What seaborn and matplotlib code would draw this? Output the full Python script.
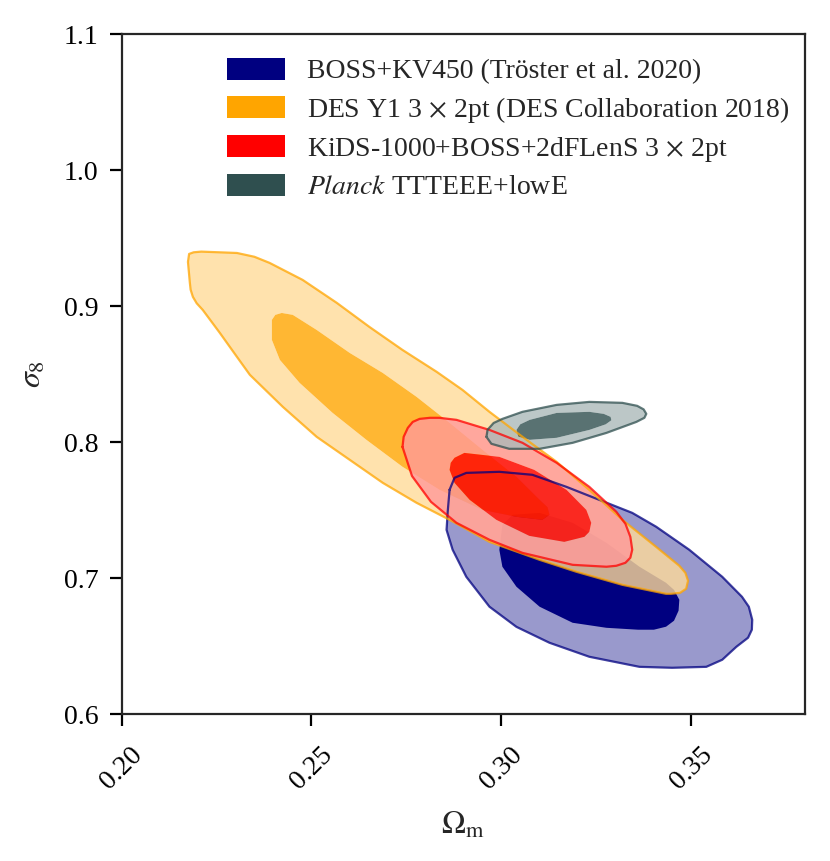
import numpy as np
import matplotlib
matplotlib.use("Agg")
import matplotlib.pyplot as plt
from matplotlib.patches import Patch, PathPatch
from matplotlib.path import Path
import seaborn as sns

# ==========================================
# CONTOUR OUTLINES (Omega_m, sigma_8)
# ==========================================

boss_outer_om = [0.2864, 0.2877, 0.2908, 0.2995, 0.3082, 0.3172, 0.3258, 0.3345, 0.3408,
                 0.3495, 0.3582, 0.3634, 0.3652, 0.3661, 0.3660, 0.3650, 0.3619, 0.3582,
                 0.3540, 0.3450, 0.3364, 0.3232, 0.3127, 0.3040, 0.2969, 0.2908, 0.2872,
                 0.2856, 0.2859]
boss_outer_s8 = [0.7649, 0.7737, 0.7773, 0.7781, 0.7759, 0.7670, 0.7575, 0.7479, 0.7377,
                 0.7208, 0.7009, 0.6862, 0.6789, 0.6693, 0.6620, 0.6561, 0.6494, 0.6399,
                 0.6347, 0.6340, 0.6347, 0.6421, 0.6524, 0.6641, 0.6789, 0.7009, 0.7208,
                 0.7354, 0.7487]
boss_inner_om = [0.2995, 0.3003, 0.3040, 0.3101, 0.3188, 0.3277, 0.3360, 0.3402, 0.3434,
                 0.3455, 0.3467, 0.3469, 0.3455, 0.3434, 0.3364, 0.3277, 0.3188, 0.3101,
                 0.3030, 0.3003]
boss_inner_s8 = [0.7207, 0.7083, 0.6936, 0.6789, 0.6671, 0.6634, 0.6620, 0.6620, 0.6642,
                 0.6686, 0.6760, 0.6840, 0.6913, 0.6965, 0.7083, 0.7259, 0.7406, 0.7479,
                 0.7465, 0.7391]

des_outer_om = [0.2175, 0.2178, 0.2190, 0.2210, 0.2304, 0.2350, 0.2390, 0.2477, 0.2567,
                0.2653, 0.2740, 0.2830, 0.2898, 0.2969, 0.3056, 0.3146, 0.3232, 0.3319,
                0.3408, 0.3469, 0.3485, 0.3492, 0.3487, 0.3471, 0.3447, 0.3434, 0.3319,
                0.3198, 0.3101, 0.2969, 0.2864, 0.2777, 0.2688, 0.2601, 0.2514, 0.2425,
                0.2338, 0.2304, 0.2259, 0.2214, 0.2198, 0.2188, 0.2182, 0.2180]
des_outer_s8 = [0.9324, 0.9383, 0.9395, 0.9400, 0.9390, 0.9362, 0.9317, 0.9192, 0.9023,
                0.8846, 0.8677, 0.8516, 0.8383, 0.8222, 0.8038, 0.7854, 0.7648, 0.7428,
                0.7229, 0.7090, 0.7038, 0.6980, 0.6921, 0.6891, 0.6884, 0.6884, 0.6950,
                0.7046, 0.7134, 0.7266, 0.7428, 0.7553, 0.7700, 0.7869, 0.8038, 0.8258,
                0.8494, 0.8626, 0.8802, 0.8971, 0.9020, 0.9067, 0.9120, 0.9170]
des_inner_om = [0.2422, 0.2451, 0.2514, 0.2601, 0.2688, 0.2777, 0.2864, 0.2951, 0.3040,
                0.3101, 0.3122, 0.3127, 0.3108, 0.3040, 0.2951, 0.2838, 0.2740, 0.2645,
                0.2556, 0.2469, 0.2417, 0.2396, 0.2396, 0.2405]
des_inner_s8 = [0.8949, 0.8935, 0.8824, 0.8655, 0.8508, 0.8332, 0.8141, 0.7942, 0.7744,
                0.7575, 0.7520, 0.7465, 0.7428, 0.7450, 0.7501, 0.7648, 0.7818, 0.8016,
                0.8214, 0.8435, 0.8604, 0.8751, 0.8898, 0.8935]

kids_outer_om = [0.2740, 0.2743, 0.2754, 0.2767, 0.2785, 0.2812, 0.2837, 0.2882, 0.2969,
                 0.3056, 0.3146, 0.3232, 0.3303, 0.3327, 0.3340, 0.3345, 0.3340, 0.3327,
                 0.3303, 0.3277, 0.3188, 0.3056, 0.2969, 0.2882, 0.2815, 0.2765]
kids_outer_s8 = [0.7964, 0.8038, 0.8104, 0.8148, 0.8170, 0.8178, 0.8178, 0.8163, 0.8089,
                 0.7994, 0.7847, 0.7670, 0.7487, 0.7399, 0.7303, 0.7208, 0.7149, 0.7112,
                 0.7090, 0.7083, 0.7097, 0.7185, 0.7281, 0.7406, 0.7560, 0.7750]
kids_inner_om = [0.2864, 0.2867, 0.2877, 0.2903, 0.2995, 0.3087, 0.3172, 0.3224, 0.3237,
                 0.3232, 0.3219, 0.3166, 0.3074, 0.2987, 0.2917, 0.2877]
kids_inner_s8 = [0.7795, 0.7847, 0.7884, 0.7920, 0.7891, 0.7795, 0.7648, 0.7501, 0.7406,
                 0.7340, 0.7303, 0.7266, 0.7310, 0.7428, 0.7575, 0.7700]

planck_outer_om = [0.2961, 0.2964, 0.2980, 0.3003, 0.3056, 0.3146, 0.3232, 0.3319, 0.3358,
                   0.3375, 0.3382, 0.3377, 0.3356, 0.3277, 0.3188, 0.3101, 0.3021, 0.2974]
planck_outer_s8 = [0.8038, 0.8090, 0.8140, 0.8170, 0.8222, 0.8273, 0.8295, 0.8288, 0.8266,
                   0.8240, 0.8207, 0.8178, 0.8148, 0.8067, 0.7994, 0.7950, 0.7950, 0.7987]
planck_inner_om = [0.3040, 0.3050, 0.3075, 0.3146, 0.3232, 0.3270, 0.3288, 0.3290, 0.3275,
                   0.3232, 0.3146, 0.3075, 0.3045]
planck_inner_s8 = [0.8089, 0.8130, 0.8163, 0.8214, 0.8222, 0.8207, 0.8185, 0.8160, 0.8130,
                   0.8089, 0.8031, 0.8016, 0.8040]

labels = [
    "BOSS+KV450 (Tröster et al. 2020)",
    r"DES Y1 3$\,\times\,$2pt (DES Collaboration 2018)",
    r"KiDS-1000+BOSS+2dFLenS 3$\,\times\,$2pt",
    r"$\it{Planck}$ TTTEEE+lowE",
]
colors = ["navy", "orange", "red", "darkslategrey"]
fill_alpha = [1.0, 0.8, 0.8, 0.8]

contours = [
    (boss_outer_om, boss_outer_s8, boss_inner_om, boss_inner_s8),
    (des_outer_om, des_outer_s8, des_inner_om, des_inner_s8),
    (kids_outer_om, kids_outer_s8, kids_inner_om, kids_inner_s8),
    (planck_outer_om, planck_outer_s8, planck_inner_om, planck_inner_s8),
]

# ==========================================
# STYLE
# ==========================================

sns.set_style("ticks")
plt.rcParams["font.family"] = ["Liberation Serif", "DejaVu Serif"]
plt.rcParams["mathtext.fontset"] = "stix"
plt.rcParams["axes.linewidth"] = 0.8
plt.rcParams["xtick.color"] = "black"
plt.rcParams["ytick.color"] = "black"


def lighten(c, f):
    rgb = np.array(matplotlib.colors.to_rgb(c))
    return tuple(rgb + (1 - rgb) * f)


def closed(a):
    return list(a) + [a[0]]


def ring(oo, os, io, is_):
    # outer band = outer contour with the inner one cut out
    outer = np.column_stack([closed(oo), closed(os)])
    inner = np.column_stack([closed(io), closed(is_)])[::-1]
    verts = np.vstack([outer, inner])
    codes = [Path.MOVETO] + [Path.LINETO] * (len(outer) - 2) + [Path.CLOSEPOLY]
    codes += [Path.MOVETO] + [Path.LINETO] * (len(inner) - 2) + [Path.CLOSEPOLY]
    return Path(verts, codes)


fig = plt.figure(figsize=(4.15, 4.305), dpi=200)
ax = fig.add_axes([0.1464, 0.1707, 0.8235, 0.7898])

# fills first, outlines afterwards
for (oo, os, io, is_), c, a in zip(contours, colors, fill_alpha):
    ax.add_patch(PathPatch(ring(oo, os, io, is_), facecolor=lighten(c, 0.6),
                           alpha=a, lw=0, zorder=2))
    ax.fill(io, is_, color=c, alpha=a, lw=0, zorder=2)

for (oo, os, io, is_), c in zip(contours, colors):
    sns.lineplot(x=closed(oo), y=closed(os), sort=False, estimator=None,
                 color=c, alpha=0.75, lw=0.8, ax=ax, zorder=3)

ax.set_xlim(0.20, 0.38)
ax.set_ylim(0.6, 1.1)
ax.set_xticks([0.20, 0.25, 0.30, 0.35])
ax.set_xticklabels(["0.20", "0.25", "0.30", "0.35"], rotation=45)
ax.set_yticks([0.6, 0.7, 0.8, 0.9, 1.0, 1.1])
ax.tick_params(labelsize=10, length=4.2, width=0.8, pad=4, direction="out")
ax.tick_params(axis="x", pad=6)
ax.set_xlabel(r"$\Omega_{\rm m}$", fontsize=11.5, labelpad=6)
ax.set_ylabel(r"$\sigma_8$", fontsize=11.5, labelpad=6)

handles = [Patch(facecolor=c, edgecolor="none") for c in colors]
ax.legend(handles, labels, loc="upper left", bbox_to_anchor=(0.154, 0.965),
          frameon=False, fontsize=10, borderpad=0, borderaxespad=0,
          handlelength=2.1, handleheight=0.86, handletextpad=0.8, labelspacing=0.36)

fig.savefig("out.png", dpi=200)
